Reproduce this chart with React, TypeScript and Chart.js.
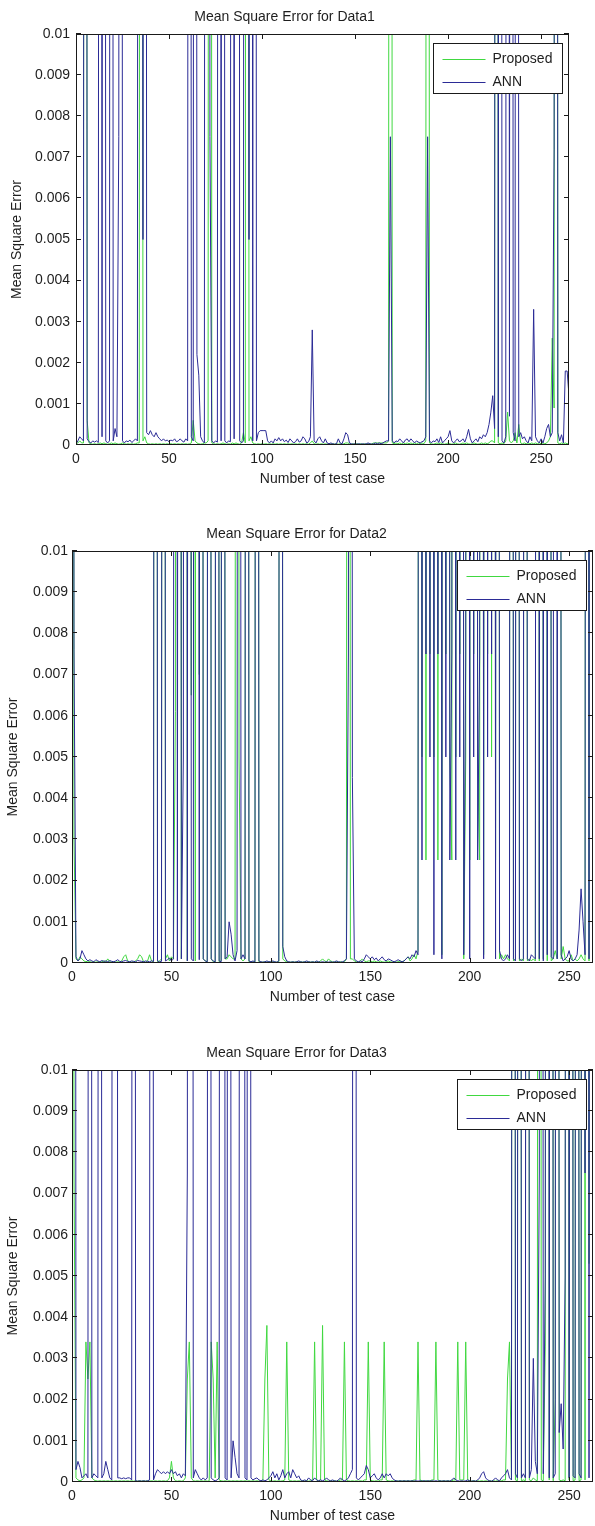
import React, { useEffect, useRef } from 'react';
import { Chart, registerables } from 'chart.js';

Chart.register(...registerables);

// ---------------- data (values in units of 1e-4) ----------------
const UNIT = 1e-4;
const seriesNames = ['Proposed', 'ANN'];
const chartTitles = ['Mean Square Error for Data1', 'Mean Square Error for Data2', 'Mean Square Error for Data3'];
const xAxisTitle = 'Number of test case';
const yAxisTitle = 'Mean Square Error';
const xTicks = [0, 50, 100, 150, 200, 250];
const xTickLabels = ['0', '50', '100', '150', '200', '250'];
const yTicks = [0, 0.001, 0.002, 0.003, 0.004, 0.005, 0.006, 0.007, 0.008, 0.009, 0.01];
const yTickLabels = ['0', '0.001', '0.002', '0.003', '0.004', '0.005', '0.006', '0.007', '0.008', '0.009', '0.01'];
const xMaxes = [265, 262, 262];

const ann1 = [
  0.3, 1, 2, 1.5, 1, 900, 1.5, 0.8, 0.5, 1, // 0
  0.7, 1, 0.6, 900, 2, 900, 1, 0.5, 1, 900, // 10
  1, 4, 2, 75, 900, 1, 0.5, 1, 0.8, 1.2, // 20
  0.6, 1, 1.5, 1, 900, 900, 50, 900, 3, 2.5, // 30
  3.5, 2.5, 2, 3, 2, 1.5, 1, 1.5, 1, 1.2, // 40
  0.8, 1.2, 1, 1.5, 0.8, 1, 1.5, 1, 0.7, 1.5, // 50
  1, 900, 2, 1, 900, 22, 17, 2, 1, 0.5, // 60
  900, 900, 75, 1, 0.5, 1, 0.7, 900, 1, 900, // 70
  1, 0.5, 1, 0.8, 900, 1.5, 900, 900, 1, 0.5, // 80
  1, 900, 900, 50, 900, 1, 900, 1, 3, 3.5, // 90
  3.5, 3.5, 3.5, 1, 0.5, 1, 0.5, 1.5, 1, 1.8, // 100
  1, 1.5, 0.8, 1.2, 0.6, 1.5, 1, 0.5, 0.8, 1.5, // 110
  0.7, 1, 2, 1.5, 0.5, 0.8, 2, 28, 1, 0.5, // 120
  1.5, 2, 1, 0.5, 1.5, 0.5, 0.3, 0.5, 0.3, 0.2, // 130
  0.3, 1.5, 0.5, 0.3, 1.5, 3, 2.5, 0.5, 0.3, 0.2, // 140
  0.3, 0.2, 0.3, 0.2, 0.3, 0.2, 0.3, 0.5, 0.3, 0.2, // 150
  0.3, 0.5, 0.3, 0.5, 0.3, 0.5, 0.8, 1, 1, 75, // 160
  1, 0.5, 1, 0.8, 1.5, 1, 0.5, 1.2, 1.5, 0.8, // 170
  1.5, 1, 0.5, 1, 0.7, 0.5, 0.8, 1, 2, 75, // 180
  1, 0.5, 1, 0.8, 1.5, 0.6, 2, 0.5, 1, 1.5, // 190
  2, 3.5, 1, 0.5, 1, 1.5, 0.8, 1, 1.5, 0.7, // 200
  2, 3.8, 1.5, 0.5, 1, 1.5, 0.8, 2, 1.5, 2.5, // 210
  2, 3, 5, 8, 12, 4, 900, 2, 900, 1, // 220
  0.5, 2, 900, 7, 900, 3, 1, 900, 2, 3, // 230
  1.5, 2, 1, 0.5, 2, 1, 33, 2, 1, 0.5, // 240
  1.5, 0.5, 2, 4, 5, 2, 3, 72, 900, 3, // 250
  1, 2.5, 0.5, 18, 18, 12, // 260
];

const proposed1 = [
  0.2, 0.5, 1, 0.5, 0.5, 900, 6, 0.5, 0.3, 0.2, // 0
  0.3, 0.2, 0.3, 0.5, 0.3, 0.5, 0.3, 0.2, 0.3, 0.5, // 10
  0.3, 0.5, 0.3, 0.2, 0.3, 0.5, 0.3, 0.2, 0.3, 0.2, // 20
  0.3, 0.2, 0.3, 0.5, 0.5, 900, 1, 2, 0.5, 0.3, // 30
  0.2, 0.3, 0.2, 0.3, 0.2, 0.3, 0.2, 0.3, 0.2, 0.3, // 40
  0.2, 0.3, 0.2, 0.3, 0.2, 0.3, 0.2, 0.3, 0.2, 0.3, // 50
  0.2, 0.3, 0.5, 6, 1, 0.5, 0.3, 0.2, 0.3, 0.5, // 60
  0.5, 1, 900, 0.5, 0.3, 0.2, 0.3, 0.2, 0.3, 0.5, // 70
  0.3, 0.2, 0.3, 0.2, 0.5, 0.3, 0.5, 0.3, 0.2, 0.5, // 80
  3, 0.5, 900, 1, 2, 0.5, 0.3, 0.2, 0.3, 0.2, // 90
  0.3, 0.2, 0.3, 0.2, 0.3, 0.2, 0.3, 0.2, 0.3, 0.2, // 100
  0.3, 0.2, 0.3, 0.2, 0.3, 0.2, 0.3, 0.2, 0.3, 0.2, // 110
  0.3, 0.2, 0.3, 0.2, 0.3, 0.2, 0.5, 1, 0.3, 0.2, // 120
  0.3, 0.2, 0.3, 0.2, 0.3, 0.2, 0.3, 0.2, 0.3, 0.2, // 130
  0.3, 0.2, 0.3, 0.2, 0.3, 0.5, 0.5, 0.3, 0.2, 0.3, // 140
  0.2, 0.3, 0.2, 0.3, 0.2, 0.3, 0.2, 0.3, 0.2, 0.3, // 150
  0.5, 0.5, 0.5, 0.5, 0.5, 0.5, 0.5, 0.5, 1, 900, // 160
  0.5, 0.3, 0.5, 0.3, 0.5, 0.3, 0.5, 0.3, 0.5, 0.3, // 170
  0.5, 0.3, 0.5, 0.3, 0.5, 0.3, 0.5, 0.3, 1, 900, // 180
  0.5, 0.3, 0.2, 0.3, 0.5, 0.3, 0.5, 0.3, 0.2, 0.3, // 190
  0.5, 0.3, 0.2, 0.3, 0.5, 0.3, 0.2, 0.3, 0.5, 0.3, // 200
  0.5, 0.3, 0.2, 0.3, 0.5, 0.3, 0.2, 0.3, 0.5, 0.3, // 210
  0.5, 0.3, 0.5, 1, 1, 0.5, 900, 0.5, 0.3, 0.5, // 220
  0.3, 1, 8, 1, 0.5, 1, 3, 0.5, 5, 0.5, // 230
  0.3, 0.5, 0.3, 0.5, 0.3, 0.5, 0.3, 0.5, 0.3, 0.5, // 240
  0.3, 0.5, 0.3, 0.5, 1, 2, 26, 9, 900, 0.5, // 250
  0.3, 0.5, 0.3, 0.5, 0.3, 0.5, // 260
];

const ann2 = [
  900, 76, 1.5, 0.5, 1, 3, 2, 1, 0.5, 0.8, // 0
  0.5, 0.3, 0.8, 0.5, 0.3, 0.6, 0.4, 0.5, 0.3, 0.6, // 10
  0.4, 0.3, 0.5, 0.8, 0.4, 0.3, 0.5, 0.6, 0.4, 0.3, // 20
  0.5, 0.4, 0.3, 0.6, 0.5, 0.4, 0.3, 0.5, 0.4, 0.3, // 30
  0.5, 0.4, 900, 0.5, 0.3, 0.4, 900, 0.5, 0.8, 1.2, // 40
  0.5, 1, 900, 0.5, 900, 1, 50, 900, 0.5, 900, // 50
  1, 0.5, 900, 900, 0.8, 900, 1, 0.5, 0.3, 900, // 60
  1, 0.5, 0.3, 900, 0.5, 0.3, 900, 1, 1.5, 10, // 70
  7, 2, 0.5, 3, 900, 1, 2, 1, 900, 0.5, // 80
  0.3, 0.5, 0.3, 900, 0.5, 0.3, 0.2, 0.3, 0.5, 0.3, // 90
  0.3, 0.5, 0.3, 0.2, 0.5, 900, 4, 1.5, 0.5, 0.3, // 100
  0.2, 0.3, 0.2, 0.3, 0.5, 0.3, 0.2, 0.3, 0.5, 0.3, // 110
  0.2, 0.3, 0.2, 0.5, 0.3, 0.2, 0.3, 0.2, 0.3, 0.2, // 120
  0.3, 0.2, 0.3, 0.5, 0.3, 0.2, 0.3, 0.5, 1, 75, // 130
  900, 45, 1, 0.5, 0.3, 0.5, 0.3, 1, 2, 1.5, // 140
  1, 1.5, 0.8, 1.2, 0.5, 1, 1.5, 0.8, 0.5, 1, // 150
  0.8, 0.5, 0.3, 0.5, 0.8, 0.5, 0.3, 0.5, 1, 1.5, // 160
  1, 2, 1.5, 3, 2, 900, 25, 900, 75, 900, // 170
  50, 900, 2, 900, 75, 900, 1, 900, 50, 900, // 180
  25, 75, 900, 25, 900, 50, 900, 2, 75, 900, // 190
  1, 900, 50, 900, 25, 75, 900, 1, 900, 50, // 200
  900, 75, 900, 1, 900, 3, 1, 0.5, 1, 2, // 210
  1, 900, 1, 0.5, 900, 1, 0.5, 1, 900, 1, // 220
  0.5, 2, 1.5, 1, 900, 1, 900, 0.5, 900, 2, // 230
  900, 1.5, 1, 900, 1, 900, 2, 0.5, 1, 1.5, // 240
  3, 1, 0.5, 1, 2, 8, 18, 10, 2, 900, // 250
  1, 900, 2, // 260
];

const proposed2 = [
  900, 30, 1, 0.5, 1.5, 1, 0.5, 0.3, 0.5, 0.3, // 0
  0.2, 0.3, 0.2, 0.3, 0.2, 0.3, 0.5, 0.3, 1, 0.3, // 10
  0.2, 0.3, 0.2, 0.3, 0.2, 0.5, 1.5, 2, 0.5, 0.3, // 20
  0.2, 0.3, 0.5, 1, 2, 1.5, 0.3, 0.2, 0.5, 2, // 30
  0.5, 0.3, 900, 0.3, 0.5, 1, 900, 1, 2, 0.5, // 40
  1.5, 1, 61, 900, 900, 1, 900, 900, 0.5, 900, // 50
  65, 900, 0.5, 900, 70, 900, 1, 0.5, 0.3, 900, // 60
  1, 0.3, 0.2, 900, 0.3, 0.5, 900, 1, 1, 2, // 70
  1.5, 1, 1, 900, 50, 1, 0.5, 1, 900, 0.3, // 80
  0.2, 0.3, 0.2, 900, 0.3, 0.2, 0.2, 0.3, 0.2, 0.3, // 90
  0.2, 0.3, 0.2, 0.2, 0.3, 900, 1, 0.5, 0.3, 0.2, // 100
  0.2, 0.3, 0.2, 0.3, 0.2, 0.3, 0.2, 0.3, 0.2, 0.3, // 110
  0.2, 0.3, 0.2, 0.3, 0.2, 0.5, 1, 0.5, 0.3, 1, // 120
  0.5, 0.3, 0.2, 0.3, 0.2, 0.3, 0.2, 0.3, 1, 900, // 130
  1, 1, 0.5, 0.3, 0.2, 0.5, 1, 0.5, 0.3, 0.5, // 140
  0.5, 0.3, 0.5, 0.3, 0.2, 0.5, 0.3, 0.2, 0.3, 0.5, // 150
  0.3, 0.2, 0.3, 0.2, 0.3, 0.5, 0.3, 0.5, 1, 1.5, // 160
  0.5, 1, 2, 1, 3, 900, 50, 900, 25, 900, // 170
  75, 900, 50, 900, 25, 900, 2, 900, 75, 900, // 180
  50, 25, 900, 50, 900, 75, 900, 1, 50, 900, // 190
  25, 900, 75, 900, 50, 25, 900, 2, 900, 75, // 200
  900, 50, 900, 25, 900, 1, 2, 1, 2, 1, // 210
  0.5, 900, 0.5, 1, 900, 0.5, 1, 0.5, 900, 0.5, // 220
  1, 0.5, 1, 0.5, 900, 0.5, 900, 1, 900, 0.5, // 230
  900, 0.5, 1, 3, 1, 900, 1, 4, 1, 0.5, // 240
  0.5, 2, 0.5, 1, 0.5, 1, 2, 1, 0.5, 900, // 250
  0.5, 900, 1, // 260
];

const ann3 = [
  900, 900, 3, 5, 3.5, 1, 1.5, 2, 1, 900, // 0
  1, 2, 1.5, 1, 900, 1, 2, 5, 3, 1, // 10
  0.5, 900, 900, 1, 1, 0.8, 1, 0.8, 1, 1, // 20
  0.5, 900, 0.3, 0.2, 0.3, 0.2, 0.3, 0.2, 0.3, 0.5, // 30
  900, 0.5, 2, 3, 2.5, 2, 2.5, 2, 2.5, 2, // 40
  3, 2, 2.5, 1.5, 2, 1, 2, 1.5, 75, 900, // 50
  900, 1, 3, 2, 1, 0.5, 1, 0.5, 1, 900, // 60
  1, 0.5, 0.3, 0.5, 1, 900, 900, 1, 0.5, 900, // 70
  1, 10, 6, 2, 1, 900, 900, 1, 0.5, 900, // 80
  1, 0.5, 0.8, 1, 0.5, 0.3, 0.5, 0.3, 0.5, 1, // 90
  1.5, 2.5, 1, 2, 0.5, 1.5, 3, 1, 2, 2.5, // 100
  1, 3, 2, 1, 1.5, 0.5, 0.3, 0.5, 0.3, 1, // 110
  0.5, 0.3, 1, 0.5, 0.3, 0.5, 0.3, 0.5, 1, 0.5, // 120
  0.3, 0.5, 0.3, 0.2, 0.5, 1, 0.5, 0.3, 0.5, 1, // 130
  2, 3, 900, 1, 0.5, 1, 1.5, 2, 4, 3, // 140
  1, 1.5, 2, 1, 0.5, 1, 2, 1, 2, 1.5, // 150
  2, 1, 0.5, 0.3, 0.2, 0.3, 0.2, 0.3, 0.2, 0.3, // 160
  0.2, 0.3, 0.2, 0.3, 0.2, 0.3, 0.2, 0.3, 0.2, 0.3, // 170
  0.2, 0.3, 0.2, 0.3, 0.2, 0.3, 0.2, 0.3, 0.2, 0.3, // 180
  0.2, 0.5, 1, 0.5, 0.3, 0.2, 0.3, 0.2, 0.3, 0.5, // 190
  0.3, 0.2, 0.3, 0.2, 0.5, 1, 2, 2.5, 1, 0.5, // 200
  0.3, 0.2, 0.5, 1, 0.5, 0.3, 1, 1.5, 2, 3, // 210
  1, 0.5, 900, 2, 1, 900, 1, 2, 1, 900, // 220
  1, 3, 30, 5, 2, 75, 900, 2, 50, 900, // 230
  1, 900, 1, 2, 900, 12, 19, 8, 50, 900, // 240
  1, 900, 1.5, 1, 900, 2, 1, 900, 75, 900, // 250
  1, 900, 3, // 260
];

const proposed3 = [
  900, 75, 1, 0.5, 0.3, 0.5, 1, 34, 25, 34, // 0
  1, 0.5, 0.3, 0.2, 0.3, 0.2, 0.3, 0.2, 0.3, 0.2, // 10
  0.3, 0.2, 0.3, 0.2, 0.3, 0.2, 0.3, 0.2, 0.3, 0.2, // 20
  0.3, 0.2, 0.3, 0.2, 0.3, 0.2, 0.3, 0.2, 0.3, 0.2, // 30
  0.3, 0.2, 0.3, 0.2, 0.3, 0.2, 0.3, 0.2, 0.3, 1, // 40
  5, 1, 0.3, 0.2, 0.3, 0.2, 0.3, 1, 25, 34, // 50
  1, 0.3, 0.2, 0.3, 0.2, 0.3, 0.2, 0.3, 0.2, 0.3, // 60
  34, 25, 1, 34, 0.5, 0.3, 0.2, 0.3, 0.2, 0.3, // 70
  0.2, 0.3, 0.2, 0.3, 0.2, 0.3, 0.2, 0.3, 0.2, 0.3, // 80
  0.2, 0.3, 0.2, 0.3, 0.2, 0.3, 0.5, 25, 38, 0.5, // 90
  0.3, 0.2, 0.3, 0.2, 0.3, 0.2, 0.3, 0.5, 34, 0.5, // 100
  0.3, 0.2, 0.3, 0.2, 0.3, 0.2, 0.3, 0.2, 0.3, 0.2, // 110
  0.3, 0.5, 34, 0.5, 0.3, 0.5, 38, 0.5, 0.3, 0.2, // 120
  0.3, 0.2, 0.3, 0.2, 0.3, 0.5, 0.5, 34, 0.5, 0.3, // 130
  0.2, 0.3, 0.2, 0.3, 0.2, 0.3, 0.2, 0.5, 0.5, 34, // 140
  0.5, 0.3, 0.2, 0.3, 0.2, 0.5, 0.5, 34, 0.5, 0.3, // 150
  0.2, 0.3, 0.2, 0.3, 0.2, 0.3, 0.2, 0.3, 0.2, 0.3, // 160
  0.2, 0.3, 0.5, 0.5, 34, 0.5, 0.3, 0.2, 0.3, 0.2, // 170
  0.3, 0.5, 0.5, 34, 0.5, 0.3, 0.2, 0.3, 0.2, 0.3, // 180
  0.2, 0.3, 0.5, 0.5, 34, 0.5, 0.5, 0.5, 34, 0.5, // 190
  0.3, 0.2, 0.3, 0.2, 0.3, 0.2, 0.3, 0.2, 0.3, 0.2, // 200
  0.3, 0.2, 0.3, 0.2, 0.3, 0.2, 0.3, 0.5, 0.5, 25, // 210
  34, 0.5, 900, 0.5, 0.3, 900, 0.3, 0.5, 0.3, 900, // 220
  0.5, 0.3, 1, 0.5, 0.3, 900, 0.5, 0.3, 33, 900, // 230
  0.5, 900, 0.3, 20, 900, 0.5, 0.3, 0.5, 0.3, 900, // 240
  0.5, 900, 0.3, 0.5, 900, 0.3, 0.5, 900, 0.5, 900, // 250
  53, 900, 0.5, // 260
];

// ---------------- presentation ----------------
const FONT_FAMILY = "'Liberation Sans', Arial, Helvetica, sans-serif";
const TEXT_COLOR = '#1e1e1e';
const PROPOSED_COLOR = '#40d840';
const ANN_COLOR = '#2b2b96';

const framePlugin = {
  id: 'matlabFrame',
  afterDatasetsDraw(chart: any) {
    const { ctx, chartArea: a, scales } = chart;
    ctx.save();
    ctx.strokeStyle = '#1a1a1a';
    ctx.lineWidth = 1;
    ctx.beginPath();
    scales.x.ticks.forEach((t: any) => {
      const px = Math.round(scales.x.getPixelForValue(t.value)) + 0.5;
      ctx.moveTo(px, a.bottom);
      ctx.lineTo(px, a.bottom - 5);
      ctx.moveTo(px, a.top);
      ctx.lineTo(px, a.top + 5);
    });
    scales.y.ticks.forEach((t: any) => {
      const py = Math.round(scales.y.getPixelForValue(t.value)) - 0.5;
      ctx.moveTo(a.left, py);
      ctx.lineTo(a.left + 5, py);
      ctx.moveTo(a.right, py);
      ctx.lineTo(a.right - 5, py);
    });
    ctx.stroke();
    ctx.strokeRect(a.left + 0.5, a.top + 0.5, a.right - a.left - 1, a.bottom - a.top - 1);

    // legend box (MATLAB style, north-east)
    const w = 129;
    const h = 50;
    const lx = Math.round(a.right - 7 - w) + 0.5;
    const ly = Math.round(a.top + 9) + 0.5;
    ctx.fillStyle = '#ffffff';
    ctx.fillRect(lx, ly, w, h);
    ctx.strokeStyle = '#1a1a1a';
    ctx.strokeRect(lx, ly, w, h);
    ctx.font = `14px ${FONT_FAMILY}`;
    ctx.textBaseline = 'middle';
    ctx.textAlign = 'left';
    chart.data.datasets.forEach((ds: any, i: number) => {
      const yy = Math.round(ly + 15 + i * 23) + 0.5;
      ctx.strokeStyle = ds.borderColor;
      ctx.lineWidth = 1.2;
      ctx.beginPath();
      ctx.moveTo(lx + 9, yy);
      ctx.lineTo(lx + 52, yy);
      ctx.stroke();
      ctx.fillStyle = TEXT_COLOR;
      ctx.fillText(ds.label, lx + 59, yy);
    });
    ctx.restore();
  },
};

type Spec = {
  title: string;
  proposed: number[];
  ann: number[];
  xMax: number;
  top: number;
  height: number;
  areaLeft: number;
  padRight: number;
  padBottom: number;
  yTitlePad: number;
  yTickPad: number;
};

function MseChart({ spec }: { spec: Spec }) {
  const ref = useRef<HTMLCanvasElement>(null);
  useEffect(() => {
    const font = { family: FONT_FAMILY, size: 14, lineHeight: 1.2 };
    const toPoints = (arr: number[]) => arr.map((v, i) => ({ x: i, y: v * UNIT }));
    const chart = new Chart(ref.current as HTMLCanvasElement, {
      type: 'line',
      data: {
        datasets: [
          {
            label: seriesNames[0],
            data: toPoints(spec.proposed),
            borderColor: PROPOSED_COLOR,
            borderWidth: 1,
            pointRadius: 0,
            tension: 0,
            order: 1,
          },
          {
            label: seriesNames[1],
            data: toPoints(spec.ann),
            borderColor: ANN_COLOR,
            borderWidth: 1,
            pointRadius: 0,
            tension: 0,
            order: 0,
          },
        ],
      },
      options: {
        responsive: false,
        animation: false,
        devicePixelRatio: 1,
        events: [],
        layout: { padding: { left: 0, right: spec.padRight, top: 0, bottom: spec.padBottom } },
        plugins: {
          legend: { display: false },
          tooltip: { enabled: false },
          title: {
            display: true,
            text: spec.title,
            color: TEXT_COLOR,
            font: { ...font, weight: 'normal' },
            padding: { top: 8.6, bottom: 8.6 },
          },
        },
        scales: {
          x: {
            type: 'linear',
            min: 0,
            max: spec.xMax,
            grid: { display: false, drawTicks: false },
            border: { display: false },
            afterBuildTicks: (s: any) => {
              s.ticks = xTicks.map((value) => ({ value }));
            },
            afterFit: (s: any) => {
              s.height = 44;
            },
            ticks: {
              autoSkip: false,
              maxRotation: 0,
              padding: 5.6,
              color: TEXT_COLOR,
              font,
              callback: (_v: any, i: number) => xTickLabels[i],
            },
            title: {
              display: true,
              text: xAxisTitle,
              color: TEXT_COLOR,
              font,
              padding: { top: 0, bottom: 1.6 },
            },
          },
          y: {
            type: 'linear',
            min: 0,
            max: 0.01,
            grid: { display: false, drawTicks: false },
            border: { display: false },
            afterBuildTicks: (s: any) => {
              s.ticks = yTicks.map((value) => ({ value }));
            },
            afterFit: (s: any) => {
              s.width = spec.areaLeft;
            },
            ticks: {
              autoSkip: false,
              padding: spec.yTickPad,
              color: TEXT_COLOR,
              font,
              callback: (_v: any, i: number) => yTickLabels[i],
            },
            title: {
              display: true,
              text: yAxisTitle,
              color: TEXT_COLOR,
              font,
              padding: { top: spec.yTitlePad, bottom: 0 },
            },
          },
        },
      },
      plugins: [framePlugin],
    } as any);
    return () => chart.destroy();
  }, [spec]);
  return (
    <canvas
      ref={ref}
      width={595}
      height={spec.height}
      style={{ position: 'absolute', left: 0, top: spec.top, width: 595, height: spec.height }}
    />
  );
}

const specs: Spec[] = [
  { title: chartTitles[0], proposed: proposed1, ann: ann1, xMax: xMaxes[0], top: 0, height: 500, areaLeft: 76, padRight: 26, padBottom: 11, yTitlePad: 9, yTickPad: 6 },
  { title: chartTitles[1], proposed: proposed2, ann: ann2, xMax: xMaxes[1], top: 517, height: 500, areaLeft: 72, padRight: 2, padBottom: 10, yTitlePad: 5, yTickPad: 4 },
  { title: chartTitles[2], proposed: proposed3, ann: ann3, xMax: xMaxes[2], top: 1036, height: 490, areaLeft: 72, padRight: 2, padBottom: 0, yTitlePad: 5, yTickPad: 4 },
];

export default function App() {
  return (
    <div style={{ position: 'absolute', left: 0, top: 0, width: 595, height: 1526, background: '#ffffff', overflow: 'hidden' }}>
      {specs.map((s, i) => (
        <MseChart key={i} spec={s} />
      ))}
    </div>
  );
}
